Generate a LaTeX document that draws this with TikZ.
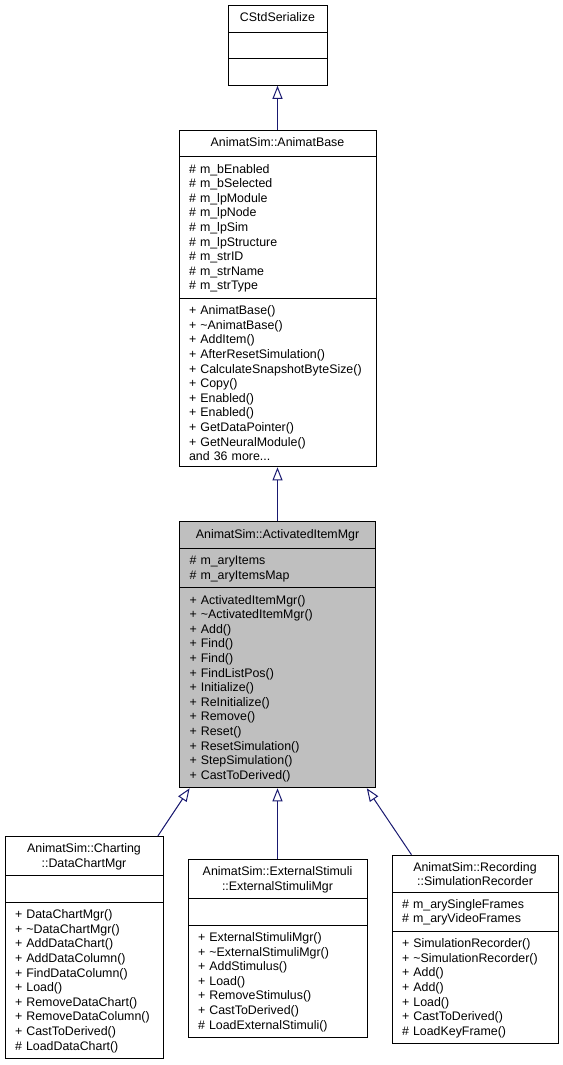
\documentclass[tikz,border=0pt]{standalone}
\usepackage{fontspec}
\setmainfont{Liberation Sans}
\usetikzlibrary{shapes.multipart, arrows.meta, positioning}
\definecolor{midnight}{RGB}{25,25,112}
\definecolor{grey75}{RGB}{191,191,191}
\newcommand{\clsname}[1]{\makebox[\hsize][c]{#1}}

\begin{document}
\begin{tikzpicture}[
    x=1pt, y=-1pt,
    cls/.style={draw, rectangle split, rectangle split parts=3, fill=white,
                font=\fontsize{12.4}{14.6}\selectfont, align=left,
                inner xsep=10pt, inner ysep=5.5pt, line width=1pt},
    inherit/.style={draw=midnight, line width=1pt,
                    -{Triangle[open, length=13pt, width=10pt]}},
    node distance=44pt
  ]
    \useasboundingbox (0,0) rectangle (562,1065);

    \node[cls, text width=79pt, anchor=north] (cstd) at (277.5,5)
      {\strut\clsname{CStdSerialize}
       \nodepart{two}\strut
       \nodepart{three}\strut};
    \node[cls, text width=177pt, below=of cstd] (base)
      {\strut\clsname{AnimatSim::AnimatBase}
       \nodepart{two}\strut\# m\_bEnabled\\ \# m\_bSelected\\ \# m\_lpModule\\
       \# m\_lpNode\\ \# m\_lpSim\\ \# m\_lpStructure\\ \# m\_strID\\
       \# m\_strName\\ \# m\_strType
       \nodepart{three}\strut + AnimatBase()\\ + \textasciitilde AnimatBase()\\
       + AddItem()\\ + AfterResetSimulation()\\ + CalculateSnapshotByteSize()\\
       + Copy()\\ + Enabled()\\ + Enabled()\\ + GetDataPointer()\\
       + GetNeuralModule()\\ and 36 more...};
    \node[cls, text width=176pt, fill=grey75, below=54pt of base] (mgr)
      {\strut\clsname{AnimatSim::ActivatedItemMgr}
       \nodepart{two}\strut\# m\_aryItems\\ \# m\_aryItemsMap
       \nodepart{three}\strut + ActivatedItemMgr()\\ + \textasciitilde ActivatedItemMgr()\\
       + Add()\\ + Find()\\ + Find()\\ + FindListPos()\\ + Initialize()\\
       + ReInitialize()\\ + Remove()\\ + Reset()\\ + ResetSimulation()\\
       + StepSimulation()\\ + CastToDerived()};

    \node[cls, text width=138pt] (chart) at (84,947.5)
      {\strut\clsname{AnimatSim::Charting}\\ \clsname{::DataChartMgr}
       \nodepart{two}\strut
       \nodepart{three}\strut + DataChartMgr()\\ + \textasciitilde DataChartMgr()\\
       + AddDataChart()\\ + AddDataColumn()\\ + FindDataColumn()\\ + Load()\\
       + RemoveDataChart()\\ + RemoveDataColumn()\\ + CastToDerived()\\
       \# LoadDataChart()};
    \node[cls, text width=159pt] (ext) at (277.5,948.5)
      {\strut\clsname{AnimatSim::ExternalStimuli}\\ \clsname{::ExternalStimuliMgr}
       \nodepart{two}\strut
       \nodepart{three}\strut + ExternalStimuliMgr()\\ + \textasciitilde ExternalStimuliMgr()\\
       + AddStimulus()\\ + Load()\\ + RemoveStimulus()\\ + CastToDerived()\\
       \# LoadExternalStimuli()};
    \node[cls, text width=146pt] (rec) at (475,949.5)
      {\strut\clsname{AnimatSim::Recording}\\ \clsname{::SimulationRecorder}
       \nodepart{two}\strut\# m\_arySingleFrames\\ \# m\_aryVideoFrames
       \nodepart{three}\strut + SimulationRecorder()\\ + \textasciitilde SimulationRecorder()\\
       + Add()\\ + Add()\\ + Load()\\ + CastToDerived()\\ \# LoadKeyFrame()};

    \draw[inherit] (base) -- (cstd);
    \draw[inherit] (mgr) -- (base);
    \draw[inherit] (chart) -- (mgr);
    \draw[inherit] (ext) -- (mgr);
    \draw[inherit] (rec) -- (mgr);
  \end{tikzpicture}
\end{document}
